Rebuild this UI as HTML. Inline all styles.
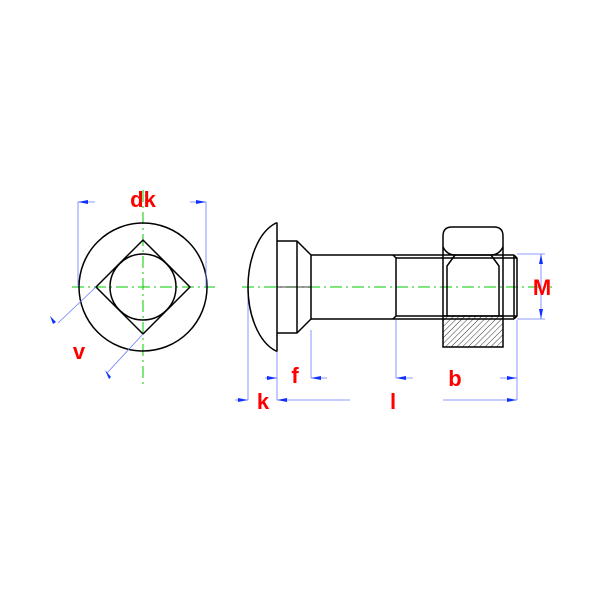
<!DOCTYPE html>
<html><head><style>body{margin:0;background:#fff}svg{display:block}</style></head><body>
<svg width="600" height="600" viewBox="0 0 600 600" xmlns="http://www.w3.org/2000/svg">
<defs>
<pattern id="h" width="4" height="4" patternUnits="userSpaceOnUse" patternTransform="rotate(45)">
<line x1="0" y1="0" x2="0" y2="4" stroke="#000" stroke-width="0.8"/></pattern>
</defs>
<rect width="600" height="600" fill="#fff"/>
<g stroke="#00cc00" stroke-width="1" stroke-dasharray="12,4,2,4">
<line x1="72" y1="287" x2="215" y2="287"/>
<line x1="143" y1="190" x2="143" y2="385"/>
<line x1="242" y1="287" x2="552" y2="287"/>
</g>
<g fill="none" stroke="#000" stroke-width="1.5">
<circle cx="143" cy="287" r="64"/>
<circle cx="143" cy="287" r="33"/>
<polygon points="96,287 143,240 190,287 143,334"/>
</g>
<g stroke="#6a7cff" stroke-width="0.8" fill="none">
<polyline points="78,287 78,202 95,202"/>
<polyline points="206,287 206,202 190,202"/>
<line x1="96" y1="287" x2="58" y2="323"/>
<line x1="143" y1="334" x2="107" y2="373"/>
<line x1="248" y1="290" x2="248" y2="400"/><line x1="235" y1="400" x2="248" y2="400"/>
<line x1="277" y1="350" x2="277" y2="400"/><line x1="277" y1="400" x2="350" y2="400"/>
<line x1="265" y1="378" x2="277" y2="378"/>
<line x1="311" y1="330" x2="311" y2="378"/><line x1="311" y1="378" x2="327" y2="378"/>
<line x1="396" y1="320" x2="396" y2="378"/><line x1="396" y1="378" x2="413" y2="378"/>
<line x1="517" y1="320" x2="517" y2="400"/><line x1="500" y1="378" x2="517" y2="378"/>
<line x1="443" y1="400" x2="517" y2="400"/>
<line x1="517" y1="254" x2="545" y2="254"/><line x1="517" y1="319" x2="545" y2="319"/>
<line x1="541" y1="254" x2="541" y2="319"/>
</g>
<g fill="#1030ff">
<polygon points="78,202 88,200 88,204"/><polygon points="206,202 196,200 196,204"/>
<polygon points="50,316 56,322 53,324"/><polygon points="105,370 111,377 109,379"/>
<polygon points="248,400 238,398 238,402"/><polygon points="277,400 287,398 287,402"/>
<polygon points="277,378 267,376 267,380"/><polygon points="311,378 321,376 321,380"/>
<polygon points="396,378 406,376 406,380"/><polygon points="517,378 507,376 507,380"/>
<polygon points="517,400 507,398 507,402"/>
<polygon points="541,254 539,264 543,264"/><polygon points="541,319 539,309 543,309"/>
</g>
<g fill="none" stroke="#000" stroke-width="1.5" stroke-linejoin="round">
<path d="M276,223 C258,232 248,260 248,287 C248,314 258,342 276,351 L277,351 L277,223 Z"/>
<line x1="277" y1="287" x2="311" y2="287" stroke-width="0.8"/>
<polyline points="277,241 297,241 311,255 311,319 297,333 277,333"/>
<line x1="297" y1="241" x2="297" y2="333"/>
<line x1="311" y1="255" x2="393" y2="255"/>
<line x1="311" y1="319" x2="393" y2="319"/>
<polyline points="393,255 396,258 396,316 393,319"/>
<line x1="393" y1="255" x2="514" y2="255"/>
<line x1="393" y1="319" x2="514" y2="319"/>
<line x1="396" y1="258" x2="517" y2="258"/>
<line x1="396" y1="316" x2="517" y2="316"/>
<polyline points="514,255 517,258 517,316 514,319"/>
<line x1="514" y1="255" x2="514" y2="319"/>
</g>
<rect x="443" y="316" width="60" height="31" fill="url(#h)"/>
<g fill="none" stroke="#000" stroke-width="1.5">
<path d="M443,236 Q443,227 452,227 L494,227 Q503,227 503,236 L503,347 L443,347 Z"/>
<path d="M443,247 Q447,255 455,255 L491,255 Q499,255 503,247"/>
<path d="M455,255 L447,266 L447,316 M491,255 L499,266 L499,316"/>
<line x1="443" y1="316" x2="503" y2="316"/>
</g>
<g font-family="Liberation Sans, sans-serif" font-weight="bold" fill="#ff0000" font-size="22" text-anchor="middle">
<text x="143" y="207">dk</text>
<text x="79" y="359">v</text>
<text x="295" y="383">f</text>
<text x="263" y="409">k</text>
<text x="393" y="409">l</text>
<text x="455" y="386">b</text>
<text x="542" y="295">M</text>
</g>
</svg>
</body></html>
